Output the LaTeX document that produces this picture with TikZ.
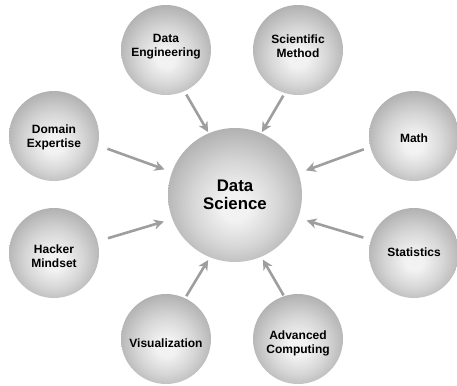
\documentclass[tikz,border=0pt]{standalone}
\usepackage{fontspec}
\setmainfont{Liberation Sans}
\usetikzlibrary{arrows.meta}
\definecolor{ballA}{gray}{0.95}
\definecolor{ballM}{gray}{0.84}
\definecolor{ballB}{gray}{0.66}
\definecolor{arrgray}{gray}{0.62}
\pgfdeclareradialshading{ballgray}{\pgfpoint{0bp}{-5bp}}{color(0bp)=(ballA); color(5bp)=(ballA); color(16bp)=(ballM); color(30bp)=(ballB); color(50bp)=(ballB)}
\tikzset{
  ball/.style={circle, shade, shading=ballgray, minimum size=90pt, inner sep=0pt, outer sep=0pt},
  bigball/.style={ball, minimum size=134pt},
  lbl/.style={font=\bfseries\fontsize{12}{14}\selectfont, align=center, text=black, inner sep=0pt},
  biglbl/.style={font=\bfseries\fontsize{16.8}{17.5}\selectfont, align=center, text=black, inner sep=0pt},
  arr/.style={draw=arrgray, line width=2.6pt, -{Stealth[length=10pt,width=10pt,inset=3pt]}}
}
\begin{document}
\begin{tikzpicture}[x=1pt,y=-1pt]
\useasboundingbox (0,0) rectangle (457,385);
% circles
\node[bigball] (ds) at (235,195) {};
\node[ball] (de) at (166,50) {};
\node[ball] (sm) at (298,50) {};
\node[ball] (dom) at (54,136) {};
\node[ball] (math) at (414,136) {};
\node[ball] (hack) at (54,253) {};
\node[ball] (stat) at (414,253) {};
\node[ball] (vis) at (166,339) {};
\node[ball] (ac) at (298,339) {};
% labels
\node[biglbl] (tds) at (235,195) {Data\\Science};
\node[lbl] (tde) at (166,47) {Data\\Engineering};
\node[lbl] (tsm) at (298,46.5) {Scientific\\Method};
\node[lbl] (tdom) at (54,137) {Domain\\Expertise};
\node[lbl] (tmath) at (414,138) {Math};
\node[lbl] (thack) at (54,256) {Hacker\\Mindset};
\node[lbl] (tstat) at (414,252) {Statistics};
\node[lbl] (tvis) at (166,343) {Visualization};
\node[lbl] (tac) at (298,343) {Advanced\\Computing};
% arrows
\draw[arr, shorten <=4pt, shorten >=1.5pt] (de.-66) -- (ds.113);
\draw[arr, shorten <=3pt, shorten >=1.5pt] (sm.-107) -- (ds.67);
\draw[arr, shorten <=10pt, shorten >=8pt] (dom.-12.5) -- (ds.160.6);
\draw[arr, shorten <=7pt, shorten >=8pt] (math.-166.8) -- (ds.19.4);
\draw[arr, shorten <=11pt, shorten >=9pt] (hack.15.5) -- (ds.-159.2);
\draw[arr, shorten <=8pt, shorten >=9pt] (stat.163.6) -- (ds.-20.8);
\draw[arr, shorten <=2.4pt, shorten >=3.4pt] (vis.65) -- (ds.-112.6);
\draw[arr, shorten <=1pt, shorten >=3.4pt] (ac.108) -- (ds.-67.4);
\end{tikzpicture}
\end{document}
